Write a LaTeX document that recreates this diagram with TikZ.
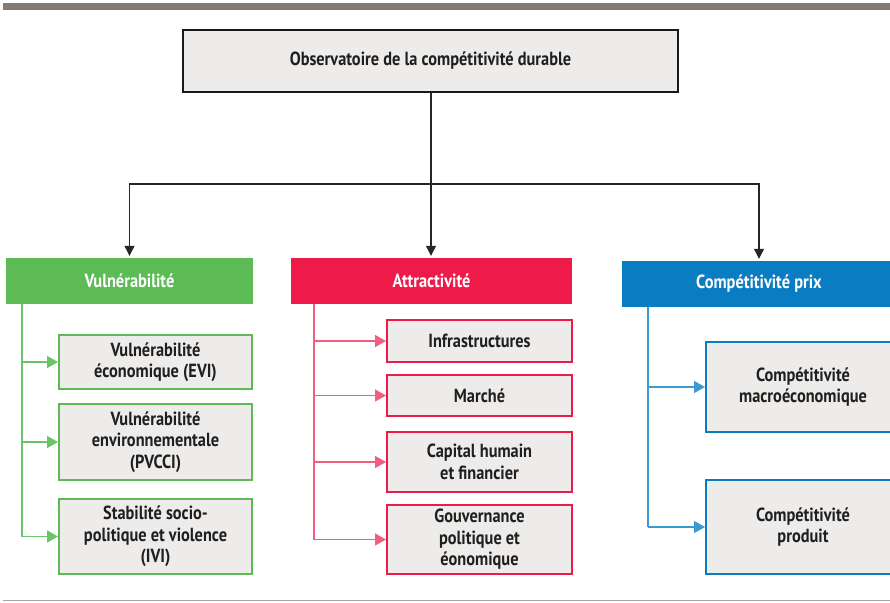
\documentclass[tikz,border=0pt]{standalone}
\usepackage{fontspec}
\setmainfont{PT Sans}[FakeStretch=0.86]
\usetikzlibrary{arrows.meta,calc}
\definecolor{barc}{HTML}{857A71}
\definecolor{boxfill}{HTML}{EEECEA}
\definecolor{gC}{HTML}{5DBB55}
\definecolor{gL}{HTML}{6DC36A}
\definecolor{rC}{HTML}{ED1A4A}
\definecolor{rL}{HTML}{F05E80}
\definecolor{bC}{HTML}{0A7DC2}
\definecolor{bL}{HTML}{3C99D4}
\tikzset{
  txt/.style={font=\fontsize{19}{21.5}\selectfont\bfseries, align=center, text=black!88, inner sep=0pt},
  topbox/.style={txt, draw=black!90, line width=2pt, fill=boxfill},
  head/.style={txt, text=white, fill=#1, draw=none},
  child/.style={txt, draw=#1, line width=2pt, fill=boxfill},
  conn/.style={draw=#1, line width=1.4pt, -{Triangle[length=11pt,width=12pt]}},
  trunk/.style={draw=#1, line width=1.4pt},
  topconn/.style={draw=black!85, line width=1.1pt, -{Triangle[length=10pt,width=10pt]}, shorten >=2pt}
}
\newcommand{\bx}[6]{% name, style, x1, y1, x2, y2 ; text follows
  \node[#2, minimum width={#5-#3}, minimum height={#6-#4}] (#1) at ({(#3+#5)/2},{(#4+#6)/2})}
\begin{document}
\begin{tikzpicture}[x=1pt,y=-1pt]
\useasboundingbox (0,0) rectangle (890,602);
% decorative rules
\fill[barc] (3,3) rectangle (890,10);
\draw[black!35, line width=0.8pt] (3,600) -- (890,600);

% top box
\bx{top}{topbox}{183}{30}{678}{92} {Observatoire de la compétitivité durable};

% headers
\bx{vul}{head=gC}{6}{258}{253}{304} {Vulnérabilité};
\bx{att}{head=rC}{291}{258}{572}{304} {Attractivité};
\bx{cp}{head=bC}{622}{261}{896}{307} {Compétitivité prix};

% top connectors
\coordinate (jm) at (431,184);
\draw[topconn] (top.south -| jm) -- (att.north -| jm);
\draw[topconn] (jm) -| (vul.north);
\draw[topconn] (jm) -| (cp.north);

% green children
\bx{g1}{child=gC}{59}{335}{252}{389} {Vulnérabilité\\économique (EVI)};
\bx{g2}{child=gC}{59}{404}{252}{480} {Vulnérabilité\\environnementale\\(PVCCI)};
\bx{g3}{child=gC}{59}{499}{252}{574} {Stabilité socio-\\politique et violence\\(IVI)};
\coordinate (gt) at (22,304);
\draw[trunk=gL] (gt) -- (gt |- g3.west);
\draw[conn=gL] (gt |- g1.west) -- (g1.west);
\draw[conn=gL] (gt |- g2.west) -- (g2.west);
\draw[conn=gL] (gt |- g3.west) -- (g3.west);

% red children
\bx{r1}{child=rC}{387}{320}{572}{362} {Infrastructures};
\bx{r2}{child=rC}{387}{375}{572}{416} {Marché};
\bx{r3}{child=rC}{387}{432}{572}{492} {Capital humain\\et financier};
\bx{r4}{child=rC}{387}{505}{572}{574} {Gouvernance\\politique et\\éonomique};
\coordinate (rt) at (314,304);
\draw[trunk=rL] (rt) -- (rt |- r4.west);
\draw[conn=rL] (rt |- r1.west) -- (r1.west);
\draw[conn=rL] (rt |- r2.west) -- (r2.west);
\draw[conn=rL] (rt |- r3.west) -- (r3.west);
\draw[conn=rL] (rt |- r4.west) -- (r4.west);

% blue children
\bx{b1}{child=bC}{706}{342}{900}{432} {Compétitivité\\macroéconomique};
\bx{b2}{child=bC}{706}{480}{900}{574} {Compétitivité\\produit};
\coordinate (bt) at (648,307);
\draw[trunk=bL] (bt) -- (bt |- b2.west);
\draw[conn=bL] (bt |- b1.west) -- (b1.west);
\draw[conn=bL] (bt |- b2.west) -- (b2.west);
\end{tikzpicture}
\end{document}
